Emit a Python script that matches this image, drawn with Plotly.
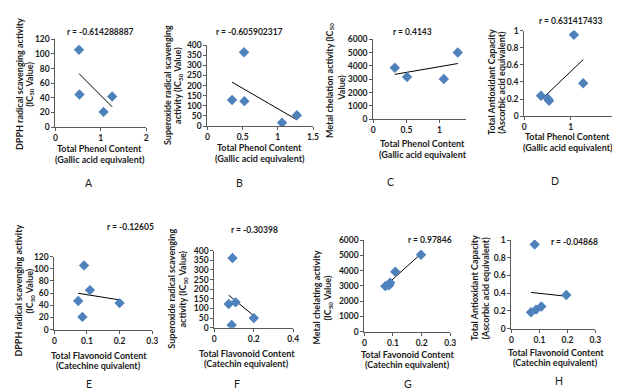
import numpy as np
import plotly.graph_objects as go

W, H = 620, 391

# ---------------- data ----------------
a_x = [0.52, 0.53, 1.06, 1.25]
a_y = [105.6, 44.5, 20.7, 41.8]
b_x = [0.35, 0.52, 0.525, 1.06, 1.27]
b_y = [129, 365, 123, 16, 53]
c_x = [0.325, 0.51, 1.065, 1.275]
c_y = [3870, 3170, 3025, 5010]
d_x = [0.36, 0.51, 0.535, 1.07, 1.27]
d_y = [0.24, 0.205, 0.18, 0.95, 0.385]
e_x = [0.073, 0.086, 0.091, 0.109, 0.2]
e_y = [47, 21, 105.6, 65, 43.7]
f_x = [0.073, 0.088, 0.092, 0.108, 0.2]
f_y = [123, 14, 362, 132, 50]
g_x = [0.073, 0.086, 0.09, 0.108, 0.198]
g_y = [2980, 3030, 3200, 3920, 5040]
h_x = [0.07, 0.083, 0.088, 0.107, 0.196]
h_y = [0.185, 0.95, 0.215, 0.25, 0.38]

r_labels = ["r = -0.614288887", "r = -0.605902317", "r = 0.4143", "r = 0.631417433",
            "r = -0.12605", "r = -0.30398", "r = 0.97846", "r = -0.04868"]
panel_letters = ["A", "B", "C", "D", "E", "F", "G", "H"]
y_titles = [
    ("DPPH radical scavenging activity", "(IC<sub>50</sub> Value)"),
    ("Superoxide radical scavenging", "activity (IC<sub>50</sub> Value)"),
    ("Metal chelation activity (IC<sub>50</sub>", "Value)"),
    ("Total Antioxidant Capacity", "(Ascorbic acid equivalent)"),
    ("DPPH radical scavenging activity", "(IC<sub>50</sub> Value)"),
    ("Superoxide radical scavenging", "activity (IC<sub>50</sub> Value)"),
    ("Metal chelating activity", "(IC<sub>50</sub> Value)"),
    ("Total Antioxidant Capacity", "(Ascorbic acid equivalent)"),
]
x_titles = [
    ("Total Phenol Content", "(Gallic acid equivalent)"),
    ("Total Phenol Content", "(Gallic acid equivalent)"),
    ("Total Phenol Content", "(Gallic acid equivalent"),
    ("Total Phenol Content", "(Gallic acid equivalent)"),
    ("Total Flavonoid Content", "(Catechine quivalent)"),
    ("Total Flavonoid Content", "(Catechin equivalent)"),
    ("Total Favonoid Content", "(Catechin equivalent)"),
    ("Total Flavonoid Content", "(Catechin equivalent)"),
]
x_ranges = [[0, 2], [0, 1.5], [0, 1.4], [0, 2], [0, 0.3], [0, 0.4], [0, 0.3], [0, 0.3]]
x_ticks = [[0, 1, 2], [0, 0.5, 1, 1.5], [0, 0.5, 1], [0, 1, 2],
           [0, 0.1, 0.2, 0.3], [0, 0.2, 0.4], [0, 0.1, 0.2, 0.3], [0, 0.1, 0.2, 0.3]]
y_ranges = [[0, 120], [0, 400], [0, 6000], [0, 1], [0, 120], [0, 400], [0, 6000], [0, 1]]
y_dticks = [20, 50, 1000, 0.2, 20, 50, 1000, 0.2]

xs = [a_x, b_x, c_x, d_x, e_x, f_x, g_x, h_x]
ys = [a_y, b_y, c_y, d_y, e_y, f_y, g_y, h_y]

# ---------------- layout (pixels) ----------------
# plot boxes: (left, right, top, bottom)
boxes = [(46, 138, 27, 117), (200, 307, 33, 116), (368, 462, 27, 109), (521, 615, 18, 106),
         (45, 144, 250, 325), (207, 287, 244, 323), (359, 446, 233, 327), (508, 593, 233, 324)]
r_pos = [(92, 19), (243, 19), (408, 19), (568, 8), (122, 220), (248, 223), (425, 233), (572, 235)]
ytitle_pos = [((9, 73), (20, 73)), ((159, 74), (170, 74)), ((324, 69), (335, 77)), ((487, 71), (498, 71)),
              ((9, 285), (20, 285)), ((164, 283), (175, 283)), ((311, 292), (322, 292)), ((471, 282), (482, 282))]
xtitle_pos = [(91, 139, 150), (253, 138, 149), (418, 134, 145), (565, 127, 138),
              (90, 351, 362), (240, 349, 360), (403, 350, 361), (553, 348, 359)]
letter_pos = [(80, 174), (233, 174), (385, 173), (552, 172), (80, 381), (230, 381), (403, 381), (556, 378)]

FONT = "Lato, 'Open Sans', sans-serif"
TXT = "#1a1a1a"
AX = "#595959"


def px(x):
    return x / W


def py(y):
    return 1 - y / H


fig = go.Figure()
annotations = []
layout = {}
for i in range(8):
    n = "" if i == 0 else str(i + 1)
    xa, ya = "x" + n, "y" + n
    l, r, t, b = boxes[i]
    tickfont = dict(family=FONT, size=8.5, color=TXT, weight="bold")
    layout["xaxis" + n] = dict(domain=[px(l), px(r)], anchor=ya, range=x_ranges[i],
                               tickvals=x_ticks[i], showgrid=False, zeroline=False,
                               showline=True, linecolor=AX, linewidth=1,
                               ticks="outside", ticklen=3, tickcolor=AX, tickfont=tickfont)
    layout["yaxis" + n] = dict(domain=[py(b), py(t)], anchor=xa, range=y_ranges[i],
                               dtick=y_dticks[i], tick0=0, showgrid=False, zeroline=False,
                               showline=True, linecolor=AX, linewidth=1,
                               ticks="outside", ticklen=3, tickcolor=AX, tickfont=tickfont)
    x = np.array(xs[i], dtype=float)
    y = np.array(ys[i], dtype=float)
    k, c0 = np.polyfit(x, y, 1)
    lx = np.array([x.min(), x.max()])
    fig.add_trace(go.Scatter(x=lx, y=k * lx + c0, mode="lines", xaxis=xa, yaxis=ya,
                             line=dict(color="black", width=1), showlegend=False,
                             hoverinfo="skip"))
    fig.add_trace(go.Scatter(x=x, y=y, mode="markers", xaxis=xa, yaxis=ya,
                             marker=dict(symbol="diamond", size=8, color="#4F81BD",
                                         line=dict(width=0)),
                             showlegend=False))
    # r title
    annotations.append(dict(x=px(r_pos[i][0]), y=py(r_pos[i][1]), xref="paper", yref="paper",
                            text=r_labels[i], showarrow=False, xanchor="center", yanchor="middle",
                            font=dict(family=FONT, size=8.5, color=TXT, weight="bold")))
    # y titles
    for (tx, ty), txt in zip(ytitle_pos[i], y_titles[i]):
        annotations.append(dict(x=px(tx), y=py(ty), xref="paper", yref="paper", text=txt,
                                textangle=-90, showarrow=False, xanchor="center",
                                yanchor="middle",
                                font=dict(family=FONT, size=9, color=TXT, weight="bold")))
    # x titles
    cx, y1, y2 = xtitle_pos[i]
    for ty, txt in zip((y1, y2), x_titles[i]):
        annotations.append(dict(x=px(cx), y=py(ty), xref="paper", yref="paper", text=txt,
                                showarrow=False, xanchor="center", yanchor="middle",
                                font=dict(family=FONT, size=9, color=TXT, weight="bold")))
    # letter
    annotations.append(dict(x=px(letter_pos[i][0]), y=py(letter_pos[i][1]), xref="paper",
                            yref="paper", text=panel_letters[i], showarrow=False,
                            xanchor="center", yanchor="middle",
                            font=dict(family=FONT, size=10.5, color=TXT)))

fig.update_layout(width=W, height=H, margin=dict(l=0, r=0, t=0, b=0),
                  paper_bgcolor="white", plot_bgcolor="white",
                  annotations=annotations, **layout)
fig.write_html("out.html")
